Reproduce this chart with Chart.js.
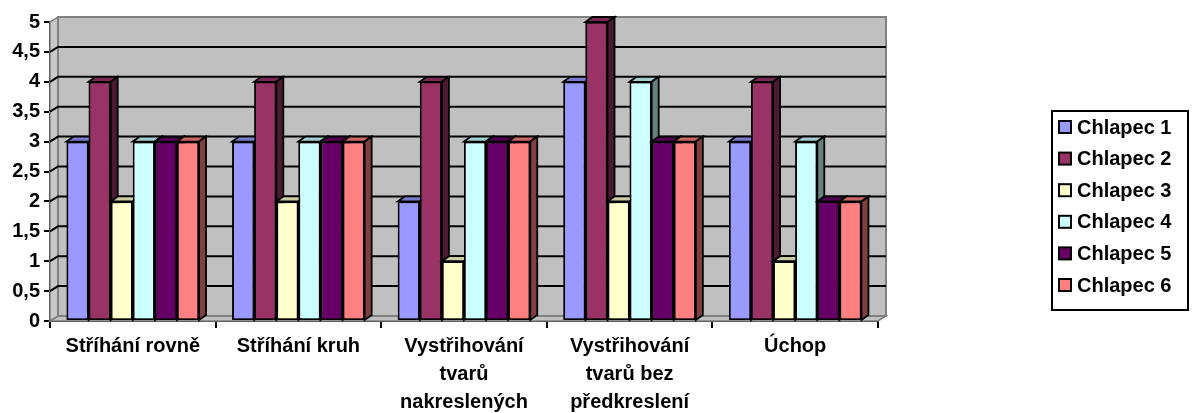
<!DOCTYPE html>
<html>
<head>
<meta charset="utf-8">
<script src="https://cdn.jsdelivr.net/npm/chart.js@4.4.0/dist/chart.umd.min.js"></script>
<style>
  html, body { margin: 0; padding: 0; background: #fff; }
  #wrap { width: 1192px; height: 413px; position: relative; }
</style>
</head>
<body>
<div id="wrap"><canvas id="chart"></canvas></div>
<script>
const categories = [
    "Stříhání rovně",
    "Stříhání kruh",
    ["Vystřihování", "tvarů", "nakreslených"],
    ["Vystřihování", "tvarů bez", "předkreslení"],
    "Úchop"
];
const seriesNames = ["Chlapec 1", "Chlapec 2", "Chlapec 3", "Chlapec 4", "Chlapec 5", "Chlapec 6"];
const chlapec1 = [3, 3, 2, 4, 3];
const chlapec2 = [4, 4, 4, 5, 4];
const chlapec3 = [2, 2, 1, 2, 1];
const chlapec4 = [3, 3, 3, 4, 3];
const chlapec5 = [3, 3, 3, 3, 2];
const chlapec6 = [3, 3, 3, 3, 2];
const seriesValues = [chlapec1, chlapec2, chlapec3, chlapec4, chlapec5, chlapec6];
const seriesColors = ["#9999FF", "#993366", "#FFFFCC", "#CCFFFF", "#660066", "#FF8080"];

const FONT = "'Liberation Sans', Arial, sans-serif";
const WALL_DX = 8, WALL_DY = 5;   // depth of the back wall
const BAR_DX = 7, BAR_DY = 5;     // depth of each bar

function shade(hex, f) {
    let n = parseInt(hex.slice(1), 16);
    let r = Math.round(((n >> 16) & 255) * f);
    let g = Math.round(((n >> 8) & 255) * f);
    let b = Math.round((n & 255) * f);
    return `rgb(${r},${g},${b})`;
}

// gray walls, floor and gridlines drawn behind the bars
const walls3d = {
    id: 'walls3d',
    beforeDatasetsDraw(chart) {
        const { ctx, chartArea: a, scales: { y } } = chart;
        ctx.save();
        ctx.lineJoin = 'miter';
        // floor
        ctx.beginPath();
        ctx.moveTo(a.left, a.bottom);
        ctx.lineTo(a.right, a.bottom);
        ctx.lineTo(a.right + WALL_DX, a.bottom - WALL_DY);
        ctx.lineTo(a.left + WALL_DX, a.bottom - WALL_DY);
        ctx.closePath();
        ctx.fillStyle = '#C0C0C0';
        ctx.fill();
        ctx.strokeStyle = '#808080';
        ctx.lineWidth = 1.5;
        ctx.stroke();
        // side wall
        ctx.beginPath();
        ctx.moveTo(a.left, a.bottom);
        ctx.lineTo(a.left, a.top);
        ctx.lineTo(a.left + WALL_DX, a.top - WALL_DY);
        ctx.lineTo(a.left + WALL_DX, a.bottom - WALL_DY);
        ctx.closePath();
        ctx.fillStyle = '#C8C8C8';
        ctx.fill();
        ctx.stroke();
        // back wall
        ctx.fillStyle = '#C0C0C0';
        ctx.fillRect(a.left + WALL_DX, a.top - WALL_DY, a.right - a.left, a.bottom - a.top);
        ctx.lineWidth = 2;
        ctx.strokeRect(a.left + WALL_DX, a.top - WALL_DY, a.right - a.left, a.bottom - a.top);
        // gridlines
        ctx.strokeStyle = '#000';
        ctx.lineWidth = 2;
        y.ticks.forEach(t => {
            if (t.value <= y.min || t.value >= y.max) return;
            const py = y.getPixelForValue(t.value);
            ctx.beginPath();
            ctx.moveTo(a.left, py);
            ctx.lineTo(a.left + WALL_DX, py - WALL_DY);
            ctx.lineTo(a.right + WALL_DX, py - WALL_DY);
            ctx.stroke();
        });
        ctx.restore();
    },
    afterDatasetsDraw(chart) {
        const ctx = chart.ctx;
        ctx.save();
        ctx.strokeStyle = '#000';
        ctx.lineWidth = 1.8;
        ctx.lineJoin = 'miter';
        chart.getSortedVisibleDatasetMetas().forEach(meta => {
            const color = chart.data.datasets[meta.index].backgroundColor;
            meta.data.forEach(bar => {
                const { x, y, base, width } = bar.getProps(['x', 'y', 'base', 'width'], true);
                const l = x - width / 2, r = x + width / 2;
                // top face
                ctx.beginPath();
                ctx.moveTo(l, y);
                ctx.lineTo(l + BAR_DX, y - BAR_DY);
                ctx.lineTo(r + BAR_DX, y - BAR_DY);
                ctx.lineTo(r, y);
                ctx.closePath();
                ctx.fillStyle = shade(color, 0.8);
                ctx.fill();
                ctx.stroke();
                // side face
                ctx.beginPath();
                ctx.moveTo(r, y);
                ctx.lineTo(r + BAR_DX, y - BAR_DY);
                ctx.lineTo(r + BAR_DX, base - BAR_DY);
                ctx.lineTo(r, base);
                ctx.closePath();
                ctx.fillStyle = shade(color, 0.5);
                ctx.fill();
                ctx.stroke();
                // front face again so the next bar covers this one's side
                bar.draw(ctx);
            });
        });
        ctx.restore();
    }
};

// boxed legend on the right
const boxLegend = {
    id: 'boxLegend',
    afterDraw(chart) {
        const ctx = chart.ctx;
        ctx.save();
        ctx.strokeStyle = '#000';
        ctx.lineWidth = 2;
        ctx.strokeRect(1052, 111, 136, 199);
        ctx.font = `bold 20px ${FONT}`;
        ctx.textBaseline = 'middle';
        chart.data.datasets.forEach((ds, i) => {
            const cy = 127 + i * 31.6;
            ctx.fillStyle = ds.backgroundColor;
            ctx.fillRect(1059, cy - 6, 12, 12);
            ctx.strokeRect(1059, cy - 6, 12, 12);
            ctx.fillStyle = '#000';
            ctx.fillText(ds.label, 1077, cy + 1);
        });
        ctx.restore();
    }
};

const datasets = seriesNames.map((name, i) => ({
    label: name,
    data: seriesValues[i],
    backgroundColor: seriesColors[i],
    borderColor: '#000',
    borderWidth: 1.8,
    borderSkipped: false
}));

new Chart(document.getElementById('chart'), {
    type: 'bar',
    data: { labels: categories, datasets: datasets },
    options: {
        responsive: true,
        maintainAspectRatio: false,
        animation: false,
        layout: { padding: { top: 22, right: 314, left: 0, bottom: 0 } },
        categoryPercentage: 0.8,
        barPercentage: 1.0,
        plugins: {
            legend: { display: false },
            tooltip: { enabled: false }
        },
        scales: {
            x: {
                afterFit: s => { s.height = 92; },
                grid: { drawOnChartArea: false, color: '#000', lineWidth: 2, tickLength: 7 },
                border: { color: '#000', width: 2 },
                ticks: {
                    color: '#000',
                    font: { family: FONT, size: 20, weight: 'bold', lineHeight: 1.4 },
                    padding: 4,
                    maxRotation: 0,
                    autoSkip: false
                }
            },
            y: {
                min: 0,
                max: 5,
                afterFit: s => { s.width = 50; },
                grid: { drawOnChartArea: false, color: '#000', lineWidth: 2, tickLength: 6 },
                border: { color: '#000', width: 2 },
                ticks: {
                    stepSize: 0.5,
                    color: '#000',
                    padding: 4,
                    font: { family: FONT, size: 20, weight: 'bold' },
                    callback: v => String(v).replace('.', ',')
                }
            }
        }
    },
    plugins: [walls3d, boxLegend]
});
</script>
</body>
</html>
